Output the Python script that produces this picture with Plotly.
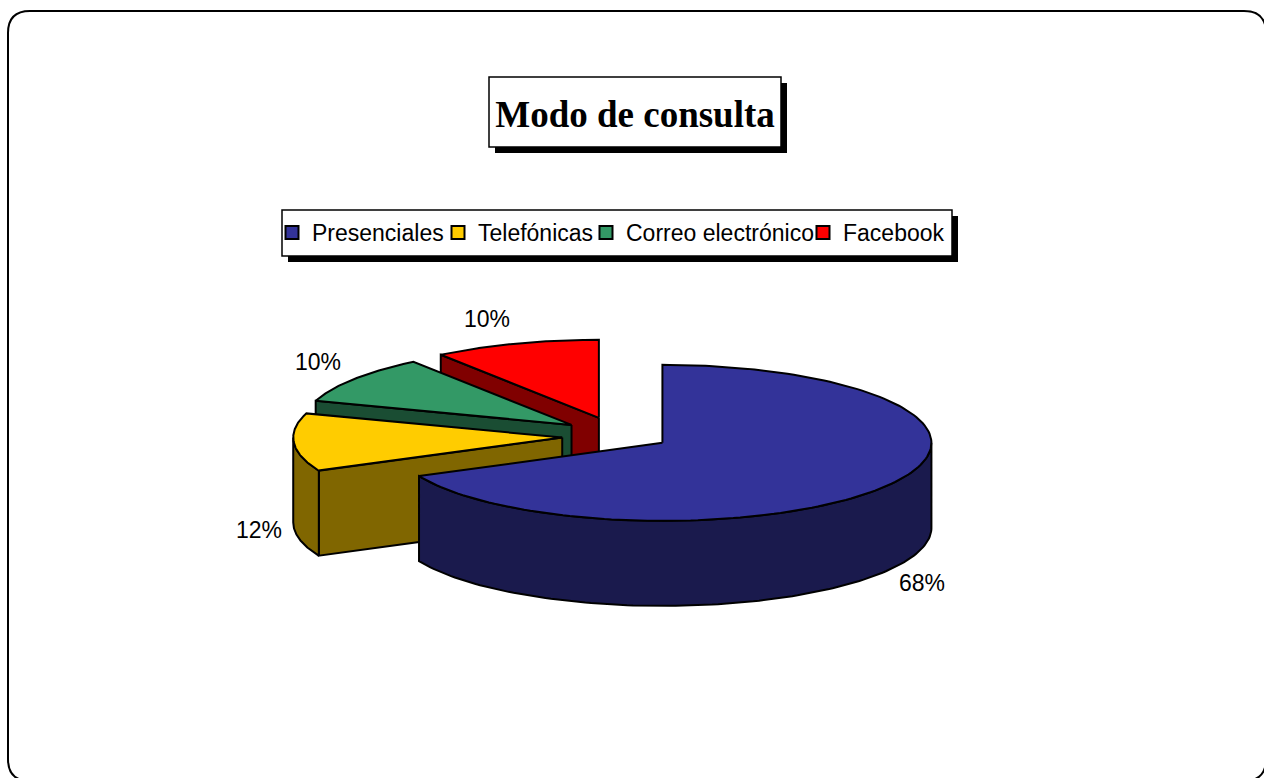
import numpy as np
import plotly.graph_objects as go

categories = ["Presenciales", "Telefónicas", "Correo electrónico", "Facebook"]
values = [68, 12, 10, 10]
explode = [0.2, 0.204, 0.209, 0.218]
nudge_y = [0, 2, 0, -0.5]
top_colors = ["#333399", "#FFCC00", "#339966", "#FF0000"]
wall_colors = ["#1A1A4D", "#806600", "#1A4D33", "#800000"]
label_xy = [(922, 583), (259, 530), (318, 362), (487, 319)]
legend_text_x = [312, 478, 626, 843]

CX, CY, RX, RY, DEPTH = 617, 434.5, 269, 78, 85
W, H = 1264, 778
LW = 2


def pt(cx, cy, deg):
    a = np.radians(deg)
    return cx + RX * np.sin(a), cy - RY * np.cos(a)


total = sum(values)
slices = []
acc = 0
for v, e, n in zip(values, explode, nudge_y):
    a0 = acc / total * 360
    acc += v
    a1 = acc / total * 360
    mid = np.radians((a0 + a1) / 2)
    slices.append((a0, a1, CX + e * RX * np.sin(mid), CY + n - e * RY * np.cos(mid)))

fig = go.Figure()


def poly(xs, ys, color):
    fig.add_trace(go.Scatter(x=list(xs), y=list(ys), mode="lines", fill="toself", fillcolor=color,
                             line=dict(color="black", width=LW), hoverinfo="skip", showlegend=False))


# painter's order: back slices first
for i in [3, 2, 1, 0]:
    a0, a1, cx, cy = slices[i]
    # radial wall on the start edge, when it faces the viewer
    if 180 < a0 < 360:
        sx, sy = pt(cx, cy, a0)
        poly([cx, sx, sx, cx, cx], [cy, sy, sy + DEPTH, cy + DEPTH, cy], wall_colors[i])
    # outer curved wall, front half only
    lo, hi = max(a0, 90), min(a1, 270)
    if hi > lo:
        t = np.linspace(lo, hi, 120)
        ax, ay = pt(cx, cy, t)
        poly(np.r_[ax, ax[::-1], ax[0]], np.r_[ay, ay[::-1] + DEPTH, ay[0]], wall_colors[i])
    # top face
    t = np.linspace(a0, a1, 160)
    ax, ay = pt(cx, cy, t)
    poly(np.r_[cx, ax, cx], np.r_[cy, ay, cy], top_colors[i])

# legend entries, one legend per entry so that each can sit at its own position
legend_ids = ["legend", "legend2", "legend3", "legend4"]
for name, color, lid in zip(categories, top_colors, legend_ids):
    fig.add_trace(go.Scatter(x=[None], y=[None], mode="markers", name=name, legend=lid, showlegend=True,
                             marker=dict(symbol="square", size=13, color=color,
                                         line=dict(color="black", width=2))))

for v, (x, y) in zip(values, label_xy):
    fig.add_annotation(x=x, y=y, text=f"{v}%", showarrow=False,
                       font=dict(family="Liberation Sans", size=23, color="black"))


def rect(x0, y0, x1, y1, fill, line_w=0):
    return dict(type="rect", xref="x", yref="y", x0=x0, y0=y0, x1=x1, y1=y1, fillcolor=fill,
                line=dict(color="black", width=line_w), layer="below")


L, T, R, B, r = 8, 11, 1266, 781, 22
frame = (f"M {L+r} {T} L {R-r} {T} Q {R} {T} {R} {T+r} L {R} {B-r} Q {R} {B} {R-r} {B} "
         f"L {L+r} {B} Q {L} {B} {L} {B-r} L {L} {T+r} Q {L} {T} {L+r} {T} Z")

legends = {
    lid: dict(orientation="h", x=(tx - 40) / W, y=1 - 211 / H, xanchor="left", yanchor="top",
              bgcolor="rgba(0,0,0,0)", borderwidth=0,
              font=dict(family="Liberation Sans", size=23, color="black"),
              itemclick=False, itemdoubleclick=False)
    for lid, tx in zip(legend_ids, legend_text_x)
}

fig.update_layout(
    width=W, height=H, margin=dict(l=0, r=0, t=0, b=0),
    paper_bgcolor="white", plot_bgcolor="white",
    xaxis=dict(range=[0, W], visible=False, fixedrange=True),
    yaxis=dict(range=[H, 0], visible=False, fixedrange=True),
    title=dict(text="<b>Modo de consulta</b>", x=635 / W, y=1 - 114 / H, xanchor="center", yanchor="middle",
               font=dict(family="Liberation Serif", size=37, color="black")),
    shapes=[
        dict(type="path", path=frame, xref="x", yref="y", line=dict(color="black", width=2), fillcolor="white", layer="below"),
        rect(495, 83, 787, 153, "black"),
        rect(489, 77, 781, 147, "white", 1.5),
        rect(288, 216, 958, 262, "black"),
        rect(282, 210, 952, 256, "white", 1.5),
    ],
    **legends,
)

fig.write_html("out.html", config={"displayModeBar": False},
               post_script="document.body.style.margin='0';document.body.style.overflow='hidden';")
